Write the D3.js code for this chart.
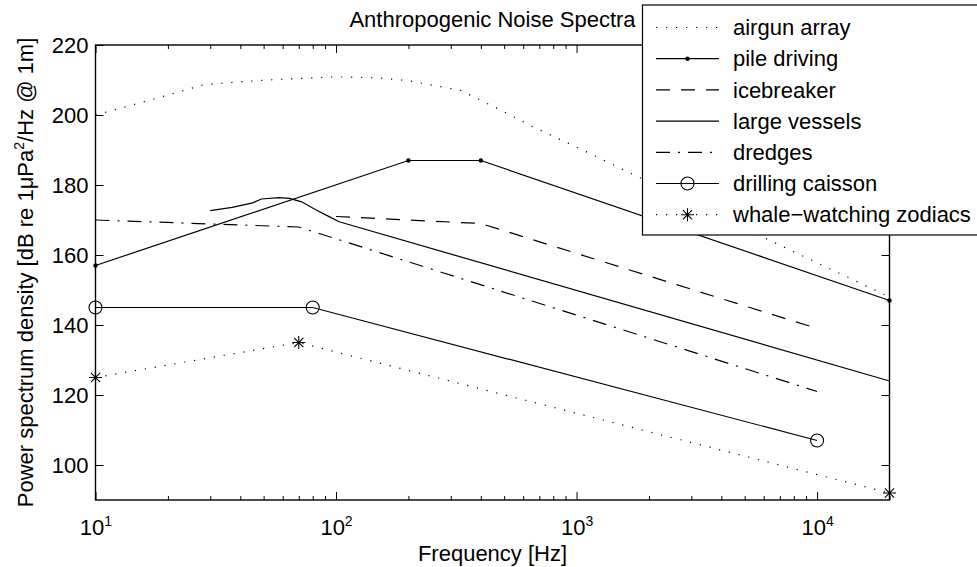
<!DOCTYPE html>
<html>
<head>
<meta charset="utf-8">
<script src="https://cdn.jsdelivr.net/npm/d3@7"></script>
<style>
  html, body { margin: 0; padding: 0; background: #fff; }
  svg { display: block; font-family: "Liberation Sans", Arial, sans-serif; }
</style>
</head>
<body>
<svg id="chart" width="977" height="567"></svg>
<script>
// Source spectra: frequency [Hz] and level [dB re 1 µPa²/Hz @ 1 m]
const airgunFreq = [10, 15, 20, 28, 40, 55, 100, 150, 200, 330, 480, 660, 1060, 1670, 3000, 6000, 20000];
const airgunDb   = [200, 203.3, 205.7, 208.6, 209.5, 210.1, 210.9, 210.6, 209.8, 207, 201.5, 196.6, 190, 183.4, 175, 165, 148];

const pileFreq = [10, 200, 400, 20000];
const pileDb   = [157, 187, 187, 147];

const iceFreq = [100, 400, 10000];
const iceDb   = [171, 169, 139];

const vesselFreq = [30, 37, 45, 49, 58, 64, 72, 82, 94, 103, 20000];
const vesselDb   = [172.7, 173.6, 174.9, 176, 176.4, 176.2, 175.2, 173, 170.9, 169.5, 124];

const dredgeFreq = [10, 70, 10000];
const dredgeDb   = [170, 168, 121];

const caissonFreq = [10, 80, 10000];
const caissonDb   = [145, 145, 107];

const zodiacFreq = [10, 70, 20000];
const zodiacDb   = [125, 135, 92];

const legendLabels = ["airgun array", "pile driving", "icebreaker", "large vessels",
                      "dredges", "drilling caisson", "whale\u2212watching zodiacs"];

const xMajorTicks = [10, 100, 1000, 10000];
const xTickExponents = ["1", "2", "3", "4"];
const yTicks = [100, 120, 140, 160, 180, 200, 220];

// ---- layout
const svg = d3.select("#chart");
const L = 95.5, R = 889.5, T = 45, B = 500;
const x = d3.scaleLog().domain([10, 20000]).range([L, R]);
const y = d3.scaleLinear().domain([90, 220]).range([B, T]);

const FS = 22;
const ink = "#000";

// style per series
const DOT = "1.2,8.8", DASH = "14,11", DASHDOT = "14,8,2,8";
const series = [
  { f: airgunFreq,  v: airgunDb,  dash: DOT,     marker: null },
  { f: pileFreq,    v: pileDb,    dash: null,    marker: "dot" },
  { f: iceFreq,     v: iceDb,     dash: DASH,    marker: null },
  { f: vesselFreq,  v: vesselDb,  dash: null,    marker: null },
  { f: dredgeFreq,  v: dredgeDb,  dash: DASHDOT, marker: null },
  { f: caissonFreq, v: caissonDb, dash: null,    marker: "circle" },
  { f: zodiacFreq,  v: zodiacDb,  dash: DOT,     marker: "star" }
];

// ---- axes (ticks point inward on all four sides)
const xMinor = [];
for (let d = 10; d < 20000; d *= 10)
  for (let k = 2; k <= 9; k++) if (k * d <= 20000) xMinor.push(k * d);

function styleAxis(g) {
  g.select(".domain").remove();
  g.selectAll("line").attr("stroke", ink).attr("stroke-width", 1);
}

svg.append("g").attr("transform", `translate(0,${B})`)
  .call(d3.axisBottom(x).tickValues(xMinor).tickSize(-4).tickFormat(""))
  .call(styleAxis);
svg.append("g").attr("transform", `translate(0,${T})`)
  .call(d3.axisTop(x).tickValues(xMinor).tickSize(-4).tickFormat(""))
  .call(styleAxis);
svg.append("g").attr("transform", `translate(0,${T})`)
  .call(d3.axisTop(x).tickValues(xMajorTicks).tickSize(-8).tickFormat(""))
  .call(styleAxis);

const xAxis = svg.append("g").attr("transform", `translate(0,${B})`)
  .call(d3.axisBottom(x).tickValues(xMajorTicks).tickSize(-8).tickFormat(() => ""))
  .call(styleAxis);
xAxis.selectAll(".tick text").each(function(d, i) {
  const t = d3.select(this)
    .attr("y", 35).attr("dy", null)
    .attr("fill", ink).attr("font-size", FS).attr("font-family", null)
    .attr("text-anchor", "middle");
  t.text(null);
  t.append("tspan").text("10");
  t.append("tspan").attr("dy", -9).attr("font-size", 14).text(xTickExponents[i]);
});

svg.append("g").attr("transform", `translate(${L},0)`)
  .call(d3.axisLeft(y).tickValues(yTicks).tickSize(-8).tickPadding(7))
  .call(styleAxis)
  .selectAll("text").attr("fill", ink).attr("font-size", FS).attr("font-family", null);
svg.append("g").attr("transform", `translate(${R},0)`)
  .call(d3.axisRight(y).tickValues(yTicks).tickSize(-8).tickFormat(""))
  .call(styleAxis);

// box
svg.append("rect").attr("x", L).attr("y", T).attr("width", R - L).attr("height", B - T)
  .attr("fill", "none").attr("stroke", ink).attr("stroke-width", 1.4);

// ---- titles
svg.append("text").attr("x", (L + R) / 2).attr("y", 27).attr("text-anchor", "middle")
  .attr("font-size", FS).attr("fill", ink).text("Anthropogenic Noise Spectra");
svg.append("text").attr("x", (L + R) / 2).attr("y", 561).attr("text-anchor", "middle")
  .attr("font-size", FS).attr("fill", ink).text("Frequency [Hz]");
const yl = svg.append("text")
  .attr("transform", `translate(33,${(T + B) / 2}) rotate(-90)`)
  .attr("text-anchor", "middle").attr("font-size", FS).attr("fill", ink);
yl.append("tspan").text("Power spectrum density [dB re 1\u03bcPa");
yl.append("tspan").attr("dy", -9).attr("font-size", 14).text("2");
yl.append("tspan").attr("dy", 9).text("/Hz @ 1m]");

// ---- markers
function drawMarker(g, kind, cx, cy) {
  if (kind === "dot") {
    g.append("circle").attr("cx", cx).attr("cy", cy).attr("r", 2.2).attr("fill", ink);
  } else if (kind === "circle") {
    g.append("circle").attr("cx", cx).attr("cy", cy).attr("r", 6.5)
      .attr("fill", "none").attr("stroke", ink).attr("stroke-width", 1.1);
  } else if (kind === "star") {
    const s = 6.5, d = 4.6;
    g.append("path")
      .attr("d", `M${cx - s},${cy}H${cx + s}M${cx},${cy - s}V${cy + s}` +
                 `M${cx - d},${cy - d}L${cx + d},${cy + d}M${cx - d},${cy + d}L${cx + d},${cy - d}`)
      .attr("stroke", ink).attr("stroke-width", 1.1).attr("fill", "none");
  }
}

// ---- series lines
const line = d3.line().x(d => x(d[0])).y(d => y(d[1]));
const plot = svg.append("g");
series.forEach(s => {
  const pts = s.f.map((f, i) => [f, s.v[i]]);
  plot.append("path").datum(pts).attr("d", line)
    .attr("fill", "none").attr("stroke", ink).attr("stroke-width", 1.2)
    .attr("stroke-dasharray", s.dash);
  if (s.marker) pts.forEach(p => drawMarker(plot, s.marker, x(p[0]), y(p[1])));
});

// ---- legend
const lg = svg.append("g");
lg.append("rect").attr("x", 642.5).attr("y", 5).attr("width", 345).attr("height", 230)
  .attr("fill", "#fff").attr("stroke", ink).attr("stroke-width", 1.2);
legendLabels.forEach((lab, i) => {
  const cy = 27.5 + i * 31.2;
  const s = series[i];
  lg.append("line").attr("x1", 656).attr("x2", 719).attr("y1", cy).attr("y2", cy)
    .attr("stroke", ink).attr("stroke-width", 1.2).attr("stroke-dasharray", s.dash);
  if (s.marker) drawMarker(lg, s.marker, 687.5, cy);
  lg.append("text").attr("x", 733).attr("y", cy).attr("dy", "0.35em")
    .attr("font-size", FS).attr("fill", ink).text(lab);
});
</script>
</body>
</html>
